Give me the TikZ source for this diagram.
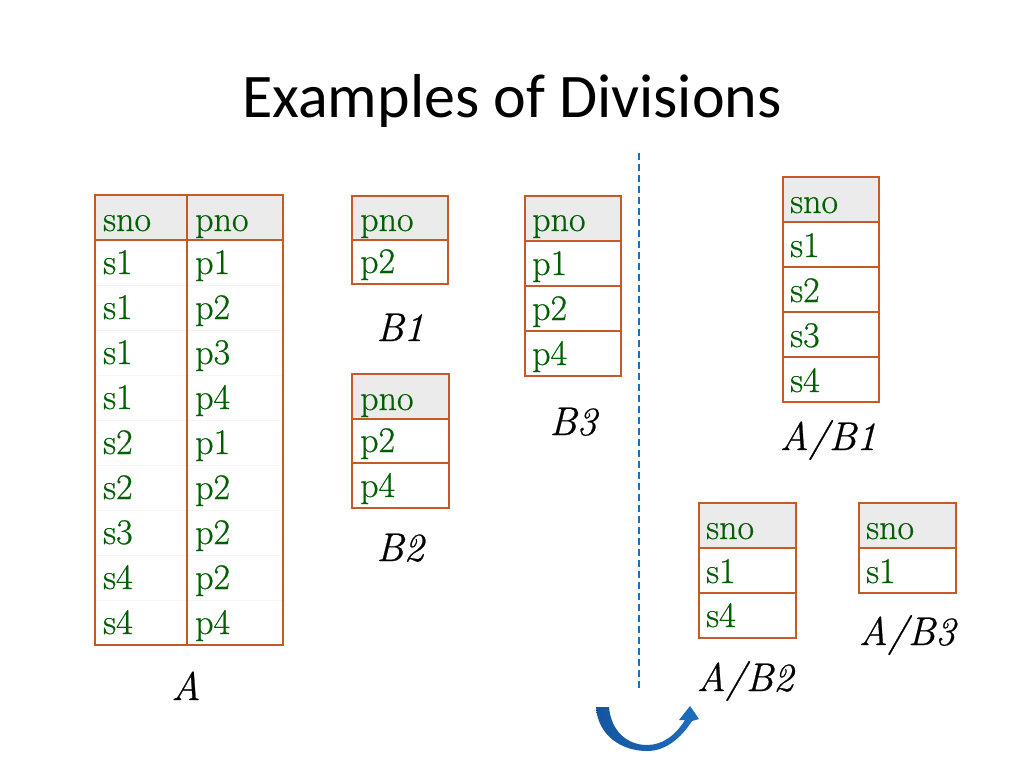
\documentclass[tikz,border=0pt]{standalone}
\usepackage{fontspec}
\newfontfamily\titlefont{Carlito}
\newfontfamily\cellfont[FakeBold=0.6]{Latin Modern Roman}
\usetikzlibrary{calc}
\definecolor{tgreen}{RGB}{0,95,0}
\definecolor{torange}{RGB}{197,90,40}
\definecolor{thead}{RGB}{235,235,235}
\definecolor{tblue}{RGB}{30,110,190}
\definecolor{tbluedark}{RGB}{20,85,160}
\tikzset{
  cell/.style={anchor=base west, inner sep=0pt, text=tgreen, font=\cellfont\fontsize{36}{40}\selectfont},
  lbl/.style={anchor=base, inner sep=0pt, font=\cellfont\itshape\fontsize{40}{44}\selectfont},
  tb/.style={draw=torange, line width=1.6pt},
  hdr/.style={fill=thead},
  sep/.style={draw=tblue, line width=2.8pt, dash pattern=on 7pt off 4pt}
}
\begin{document}
\begin{tikzpicture}[x=1pt,y=-1pt]
\useasboundingbox[fill=white] (0,0) rectangle (1024,768);
% title
\node[anchor=base, inner sep=0pt, font=\titlefont\fontsize{62}{66}\selectfont] (title) at (512,117) {Examples of Divisions};

% ---------- Table A ----------
\fill[hdr] (95,195) rectangle (283,240);
\foreach \i in {1,...,8} {\draw[black!4, line width=0.8pt] (95,{240+45*\i}) -- (283,{240+45*\i});}
\draw[tb] (95,240) -- (283,240);
\draw[tb] (187,195) -- (187,645);
\draw[tb] (95,195) rectangle (283,645);
\node[cell] (ah1) at (103,231) {sno};
\node[cell] (ah2) at (195,231) {pno};
\foreach \s/\p [count=\k] in {s1/p1,s1/p2,s1/p3,s1/p4,s2/p1,s2/p2,s3/p2,s4/p2,s4/p4} {
  \node[cell] (a\k s) at (103,{240+45*\k-11}) {\s};
  \node[cell] (a\k p) at (195,{240+45*\k-11}) {\p};
}
\node[lbl] (labA) at (186,700) {A};

% ---------- Table B1 ----------
\fill[hdr] (352,196) rectangle (448,240);
\draw[tb] (352,240) -- (448,240);
\draw[tb] (352,196) rectangle (448,284);
\node[cell] (b1h) at (360,231) {pno};
\node[cell] (b1r1) at (360,273) {p2};
\node[lbl] (labB1) at (400,341) {B1};

% ---------- Table B2 ----------
\fill[hdr] (352,374) rectangle (449,419);
\draw[tb] (352,419) -- (449,419);
\draw[tb] (352,463) -- (449,463);
\draw[tb] (352,374) rectangle (449,508);
\node[cell] (b2h) at (360,410) {pno};
\node[cell] (b2r1) at (360,452) {p2};
\node[cell] (b2r2) at (360,497) {p4};
\node[lbl] (labB2) at (400,561) {B2};

% ---------- Table B3 ----------
\fill[hdr] (525,196) rectangle (621,241);
\draw[tb] (525,241) -- (621,241);
\draw[tb] (525,286) -- (621,286);
\draw[tb] (525,331) -- (621,331);
\draw[tb] (525,196) rectangle (621,376);
\node[cell] (b3h) at (532,231) {pno};
\node[cell] (b3r1) at (532,275) {p1};
\node[cell] (b3r2) at (532,320) {p2};
\node[cell] (b3r3) at (532,365) {p4};
\node[lbl] (labB3) at (573,435) {B3};

% ---------- separator ----------
\coordinate (septop) at (639,153);
\coordinate (sepbot) at (639,690);
\draw[sep] (septop) -- (sepbot);

% ---------- A/B1 ----------
\fill[hdr] (783,177) rectangle (879,222);
\foreach \yy in {222,267,312,357} {\draw[tb] (783,\yy) -- (879,\yy);}
\draw[tb] (783,177) rectangle (879,402);
\node[cell] (c1h) at (790,213) {sno};
\node[cell] (c1r1) at (790,257) {s1};
\node[cell] (c1r2) at (790,302) {s2};
\node[cell] (c1r3) at (790,347) {s3};
\node[cell] (c1r4) at (790,392) {s4};
\node[lbl] (labC1) at (828,450) {A/B1};

% ---------- A/B2 ----------
\fill[hdr] (699,503) rectangle (796,548);
\draw[tb] (699,548) -- (796,548);
\draw[tb] (699,593) -- (796,593);
\draw[tb] (699,503) rectangle (796,638);
\node[cell] (c2h) at (706,539) {sno};
\node[cell] (c2r1) at (706,583) {s1};
\node[cell] (c2r2) at (706,627) {s4};
\node[lbl] (labC2) at (745,691) {A/B2};

% ---------- A/B3 ----------
\fill[hdr] (859,503) rectangle (956,548);
\draw[tb] (859,548) -- (956,548);
\draw[tb] (859,503) rectangle (956,593);
\node[cell] (c3h) at (866,539) {sno};
\node[cell] (c3r1) at (866,583) {s1};
\node[lbl] (labC3) at (907,645) {A/B3};

% ---------- curved arrow ----------
\shade[left color=tbluedark, right color=tblue]
  (596,707) .. controls (598,736) and (622,751) .. (647,751)
  .. controls (666,751) and (681,738) .. (692,721)
  -- (699,719) -- (690,706) -- (679,720) -- (685,720)
  .. controls (675,736) and (662,745) .. (647,745)
  .. controls (627,745) and (611,731) .. (609,707) -- cycle;
\end{tikzpicture}
\end{document}
